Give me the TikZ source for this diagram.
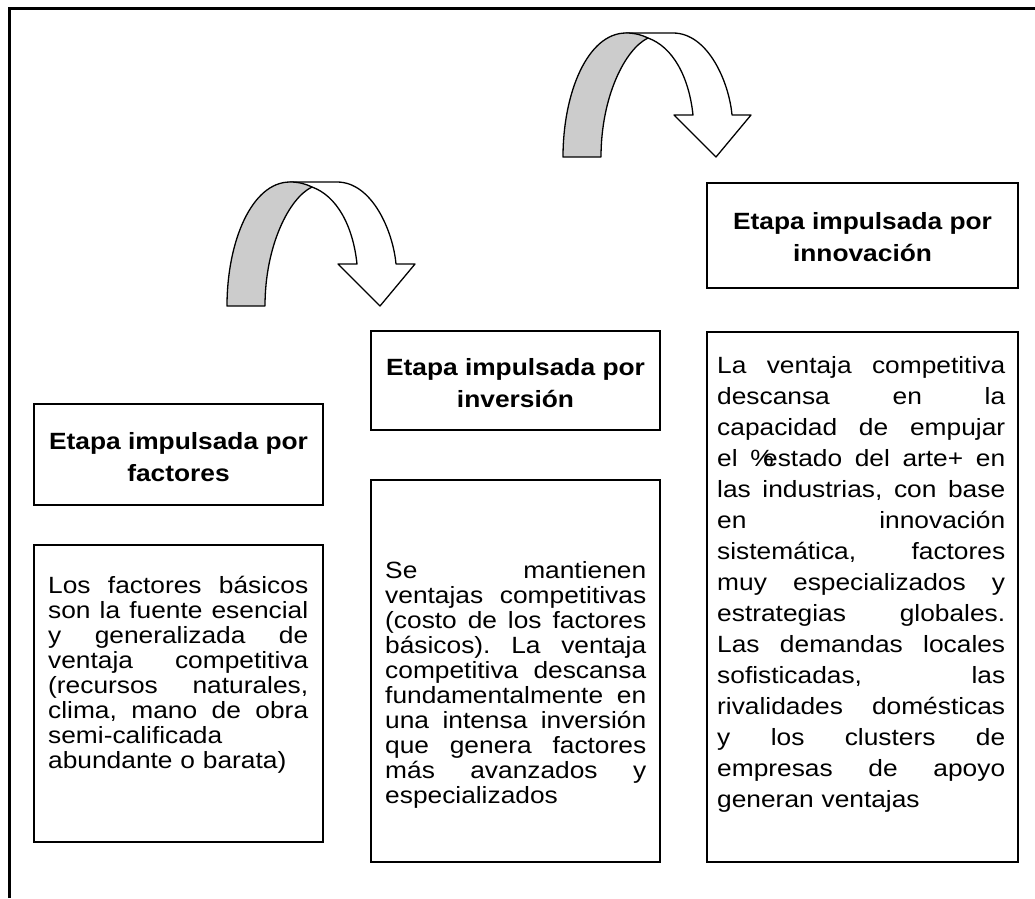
\documentclass[tikz,border=0pt]{standalone}
\usepackage{fontspec}
\setmainfont{Liberation Sans}[FakeStretch=1.12]
\newcommand\jl[2]{\hbox to #1pt{\frenchspacing\spaceskip=0.28em plus 1fil\relax #2}}
\begin{document}
\begin{tikzpicture}[x=1pt,y=1pt,
  box/.style={draw=black, line width=1.4pt, inner sep=0pt, fill=white},
  titletext/.style={align=center, inner sep=0pt, font=\fontsize{23.5pt}{32pt}\selectfont\bfseries},
  bodytext/.style={inner sep=0pt, anchor=north west, align=left, font=\fontsize{23.5pt}{25pt}\selectfont},
  bodytextwide/.style={bodytext, font=\fontsize{23.5pt}{31pt}\selectfont},
  bandline/.style={draw=black, line width=1.3pt, line join=round},
  uarrow/.pic={
    \path[bandline, fill=white] (63,124) -- (110,124) .. controls (145,124) and (166,75) .. (169,42)
      -- (188,42) -- (153,0) -- (111,42) -- (130,42) .. controls (126,80) and (110,110) .. (85,119) -- cycle;
    \path[bandline, fill=black!20] (0,0) .. controls (0,65) and (25,124) .. (63,124)
      .. controls (72,124) and (79,122) .. (85,119) .. controls (62,108) and (38,60) .. (38,0) -- cycle;
  }]
\useasboundingbox (0,0) rectangle (1035,-898);
% frame
\coordinate (fbl) at (9.5,-898);
\coordinate (ftl) at (9.5,-8.5);
\coordinate (ftr) at (1035,-8.5);
\draw[line width=3pt] (fbl) -- (ftl) -- (ftr);
% arrows
\pic at (227,-306) {uarrow};
\pic at (563,-157) {uarrow};
% title boxes
\node[box, minimum width=289pt, minimum height=101pt] (t1) at (178.5,-454.5) {};
\node[titletext] (t1txt) at ([yshift=-3pt]t1.center) {Etapa impulsada por\\factores};
\node[box, minimum width=289pt, minimum height=99pt] (t2) at (515.5,-380.5) {};
\node[titletext] (t2txt) at ([yshift=-3pt]t2.center) {Etapa impulsada por\\inversión};
\node[box, minimum width=311pt, minimum height=105pt] (t3) at (862.5,-235.5) {};
\node[titletext] (t3txt) at ([yshift=-2pt]t3.center) {Etapa impulsada por\\innovación};
% body boxes
\node[box, minimum width=289pt, minimum height=297pt] (b1) at (178.5,-693.5) {};
\node[box, minimum width=289pt, minimum height=382pt] (b2) at (515.5,-671) {};
\node[box, minimum width=311pt, minimum height=530pt] (b3) at (862.5,-597) {};
\node[bodytext, text width=260pt] (b1txt) at (48,-576) {%
\jl{260}{Los factores básicos}
\jl{260}{son la fuente esencial}
\jl{260}{y generalizada de}
\jl{260}{ventaja competitiva}
\jl{260}{(recursos naturales,}
\jl{260}{clima, mano de obra}
semi-calificada\\
abundante o barata)};
\node[bodytext, text width=261pt] (b2txt) at (385,-561) {%
\jl{261}{Se mantienen}
\jl{261}{ventajas competitivas}
\jl{261}{(costo de los factores}
\jl{261}{básicos). La ventaja}
\jl{261}{competitiva descansa}
\jl{261}{fundamentalmente en}
\jl{261}{una intensa inversión}
\jl{261}{que genera factores}
\jl{261}{más avanzados y}
especializados};
\node[bodytextwide, text width=288pt] (b3txt) at (717,-356) {%
\jl{288}{La ventaja competitiva}
\jl{288}{descansa en la}
\jl{288}{capacidad de empujar}
\jl{288}{el \%\kern-0.45em estado del arte+ en}
\jl{288}{las industrias, con base}
\jl{288}{en innovación}
\jl{288}{sistemática, factores}
\jl{288}{muy especializados y}
\jl{288}{estrategias globales.}
\jl{288}{Las demandas locales}
\jl{288}{sofisticadas, las}
\jl{288}{rivalidades domésticas}
\jl{288}{y los clusters de}
\jl{288}{empresas de apoyo}
generan ventajas};
\end{tikzpicture}
\end{document}
